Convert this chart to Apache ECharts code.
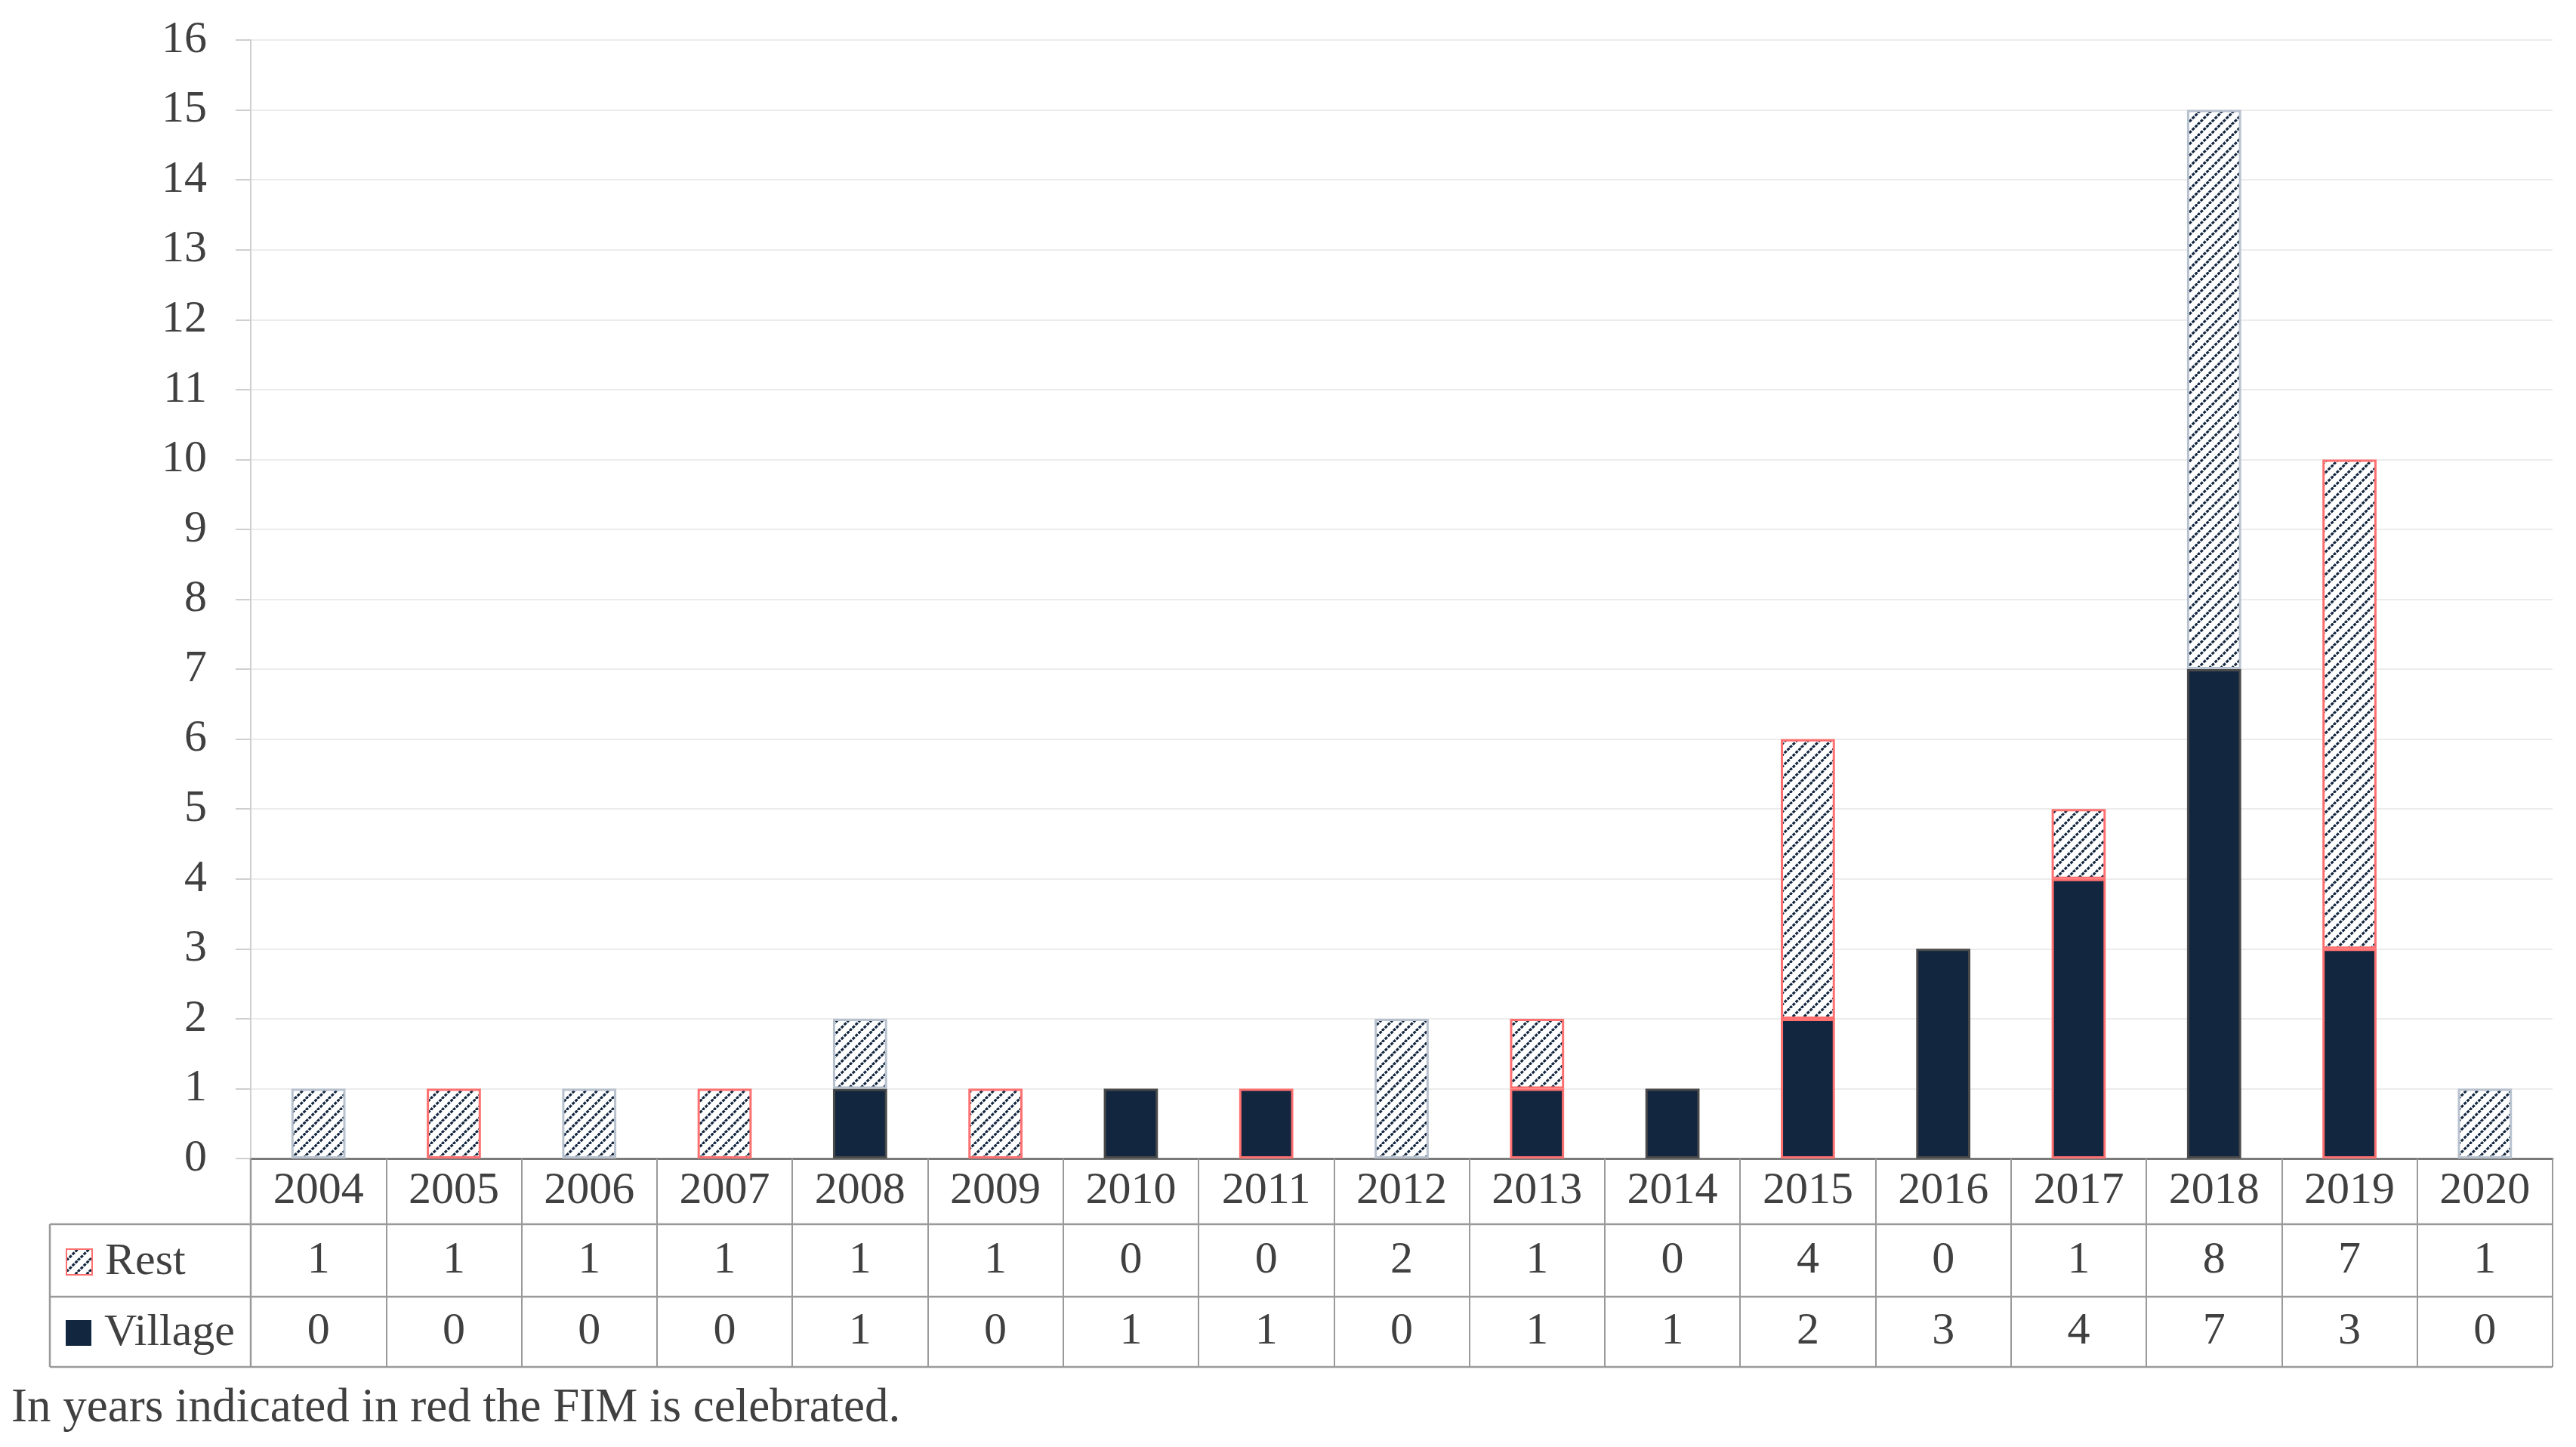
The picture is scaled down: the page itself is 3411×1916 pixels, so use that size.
<!DOCTYPE html>
<html>
<head>
<meta charset="utf-8">
<script src="https://cdn.jsdelivr.net/npm/echarts@6/dist/echarts.min.js"></script>
<style>
html,body{margin:0;padding:0;background:#fff;}
#chart{width:3411px;height:1916px;}
</style>
</head>
<body>
<div id="chart"></div>
<script>
// ---- data ----
const years = ['2004','2005','2006','2007','2008','2009','2010','2011','2012','2013','2014','2015','2016','2017','2018','2019','2020'];
const restValues = [1,1,1,1,1,1,0,0,2,1,0,4,0,1,8,7,1];
const villageValues = [0,0,0,0,1,0,1,1,0,1,1,2,3,4,7,3,0];
const fimYears = ['2005','2007','2009','2011','2013','2015','2017','2019'];
const yTicks = [0,16,1]; // min, max, interval
const footnote = 'In years indicated in red the FIM is celebrated.';

// ---- styles ----
const FONT = 'Liberation Serif';
const TXT = '#404040';
const NAVY = '#13263f';
const RED = '#ff7070';

function hatch() {
  const s = 15;
  const c = document.createElement('canvas');
  c.width = s; c.height = s;
  const g = c.getContext('2d');
  g.fillStyle = '#ffffff';
  g.fillRect(0, 0, s, s);
  g.strokeStyle = NAVY;
  g.lineWidth = 3.2;
  g.setLineDash([4, 1.5]);
  [-s, 0, s].forEach(o => {
    g.beginPath();
    g.moveTo(o, s);
    g.lineTo(o + s, 0);
    g.stroke();
  });
  return c;
}
const hatchPattern = { image: hatch(), repeat: 'repeat' };

function items(vals, normalBorder) {
  return vals.map((v, i) => ({
    value: v,
    itemStyle: {
      borderColor: fimYears.includes(years[i]) ? RED : normalBorder,
      borderWidth: v === 0 ? 0 : 3
    }
  }));
}

const chart = echarts.init(document.getElementById('chart'), null, { renderer: 'canvas' });

const L = 332, R = 3380, T = 53, B = 1534;
const tableLeft = 66;
const rowLines = [1621, 1717, 1810];

const labelBase = { fontFamily: FONT, fontSize: 60, color: TXT };
const legendBase = {
  orient: 'vertical', left: 87, padding: 0,
  itemWidth: 34, itemHeight: 34, icon: 'rect',
  textStyle: { fontFamily: FONT, fontSize: 60, color: TXT, padding: [0, 0, 0, 12] }
};

chart.setOption({
  animation: false,
  backgroundColor: '#ffffff',
  grid: { left: L, right: 3411 - R, top: T, bottom: 1916 - B, containLabel: false },
  legend: [
    { ...legendBase, top: 1669 - 28,
      data: [{ name: 'Rest', itemStyle: { color: hatchPattern, borderColor: RED, borderWidth: 2 } }] },
    { ...legendBase, top: 1763 - 28,
      data: [{ name: 'Village', itemStyle: { color: NAVY, borderWidth: 0 } }] }
  ],
  xAxis: [
    {
      type: 'category', data: years, position: 'bottom',
      axisLine: { show: true, lineStyle: { color: '#7a7a7a', width: 3 } },
      axisTick: { show: true, length: 276, lineStyle: { color: '#9a9a9a', width: 2 } },
      axisLabel: { ...labelBase, margin: 43, verticalAlign: 'middle' },
      splitLine: { show: false }
    },
    {
      type: 'category', data: restValues.map(String), position: 'bottom', gridIndex: 0,
      axisLine: { show: false }, axisTick: { show: false },
      axisLabel: { ...labelBase, margin: 135, verticalAlign: 'middle' }
    },
    {
      type: 'category', data: villageValues.map(String), position: 'bottom', gridIndex: 0,
      axisLine: { show: false }, axisTick: { show: false },
      axisLabel: { ...labelBase, margin: 229, verticalAlign: 'middle' }
    }
  ],
  yAxis: {
    type: 'value', min: yTicks[0], max: yTicks[1], interval: yTicks[2],
    axisLine: { show: true, lineStyle: { color: '#cfcfcf', width: 2 } },
    axisTick: { show: true, length: 20, lineStyle: { color: '#cfcfcf', width: 2 } },
    axisLabel: { ...labelBase, margin: 58 },
    splitLine: { show: true, lineStyle: { color: '#ececec', width: 2 } }
  },
  series: [
    {
      name: 'Village', type: 'bar', stack: 'total', barWidth: '40%',
      itemStyle: { color: NAVY },
      data: items(villageValues, '#4a4a4a')
    },
    {
      name: 'Rest', type: 'bar', stack: 'total', barWidth: '40%',
      itemStyle: { color: hatchPattern },
      data: items(restValues, '#b8c2cf')
    }
  ],
  graphic: [
    ...rowLines.map(y => ({
      type: 'line', silent: true,
      shape: { x1: tableLeft, y1: y, x2: R, y2: y },
      style: { stroke: '#9a9a9a', lineWidth: 2.5 }
    })),
    {
      type: 'line', silent: true,
      shape: { x1: tableLeft, y1: rowLines[0], x2: tableLeft, y2: rowLines[2] },
      style: { stroke: '#9a9a9a', lineWidth: 2.5 }
    },
    {
      type: 'line', silent: true,
      shape: { x1: L, y1: B, x2: L, y2: rowLines[2] },
      style: { stroke: '#9a9a9a', lineWidth: 2.5 }
    },
    {
      type: 'text', left: 15, top: 1834, silent: true,
      style: { text: footnote, font: '63px "Liberation Serif"', fill: TXT }
    }
  ]
});
</script>
</body>
</html>
